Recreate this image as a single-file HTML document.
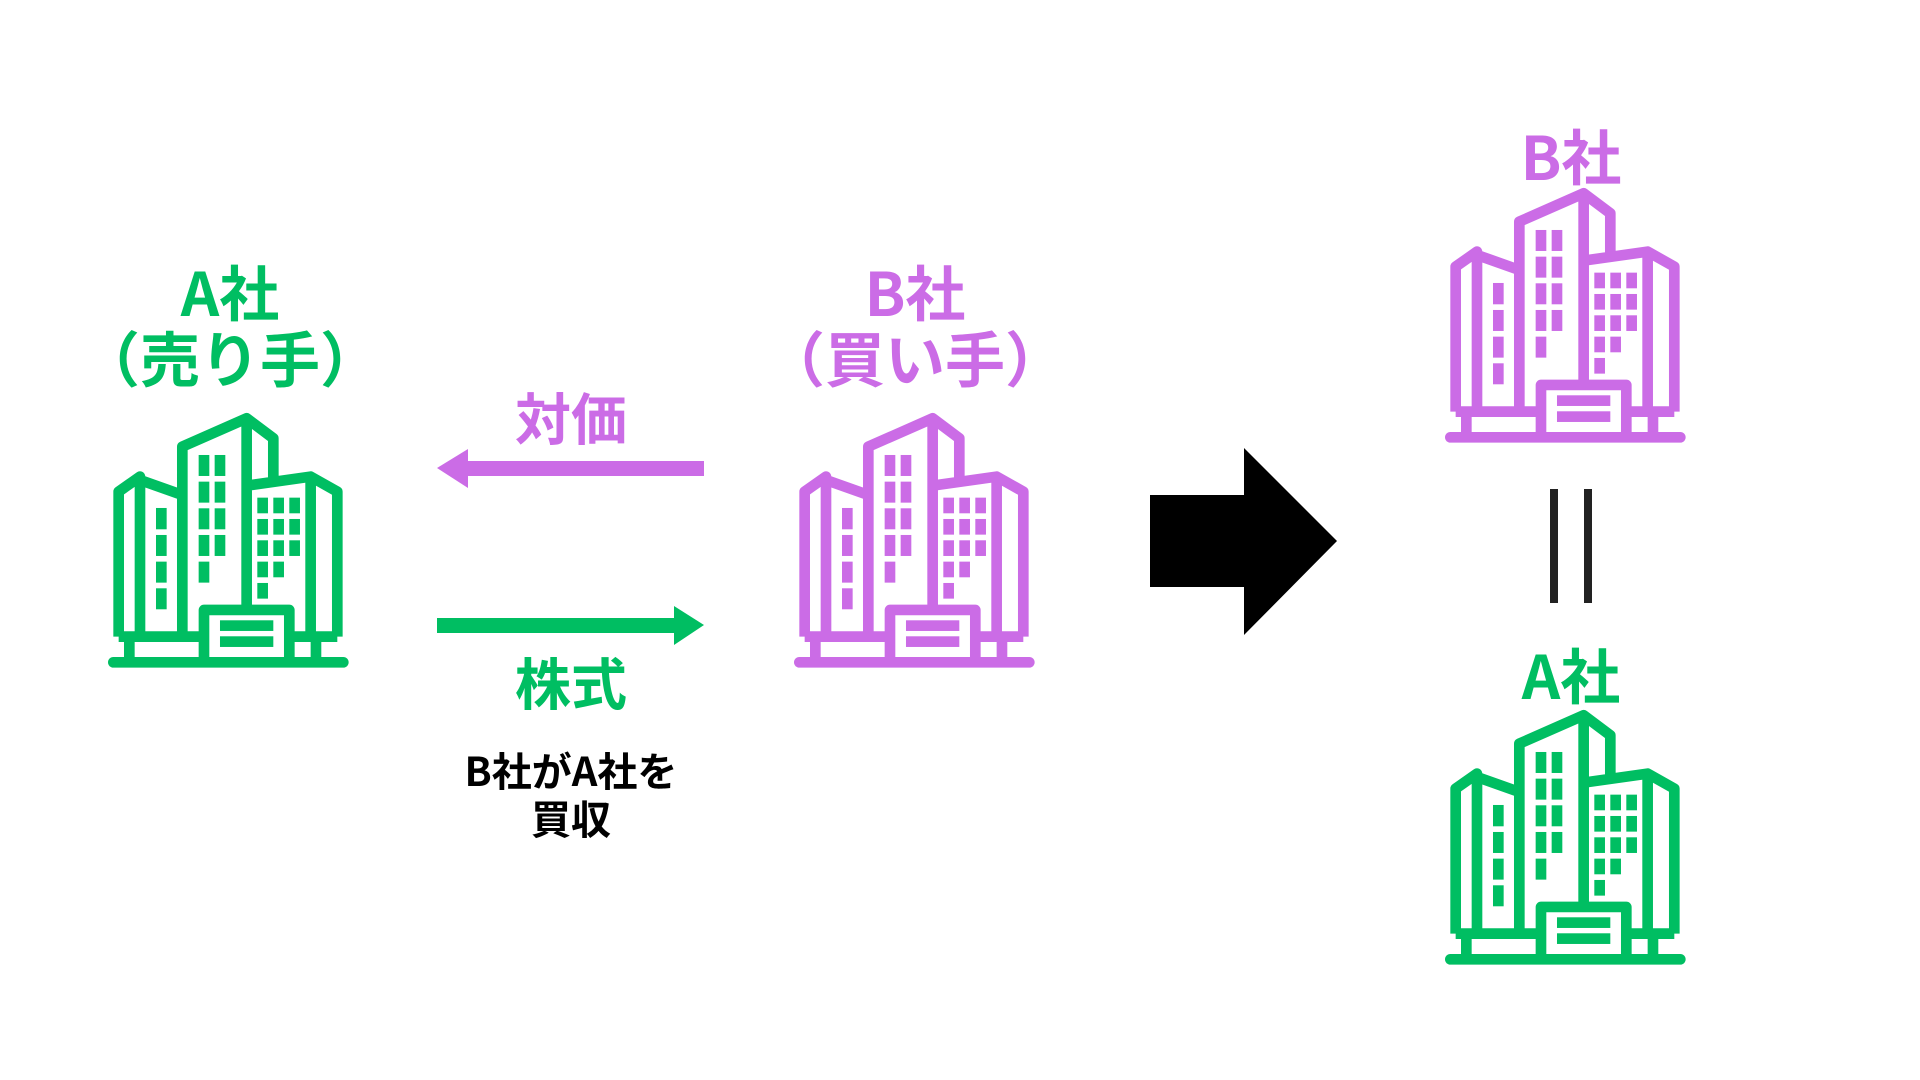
<!DOCTYPE html>
<html><head><meta charset="utf-8"><style>
html,body{margin:0;padding:0;background:#fff;width:1920px;height:1080px;overflow:hidden}
svg{display:block}
text{font-family:"Noto Sans CJK JP","Liberation Sans",sans-serif;font-weight:bold;text-anchor:middle}
</style></head><body>
<svg width="1920" height="1080" viewBox="0 0 1920 1080" xmlns="http://www.w3.org/2000/svg">
<defs>
<g id="bld">
  <path fill="none" stroke="currentColor" stroke-width="32" stroke-linejoin="round" d="M86,1160 V725 L150,680 V1160 M150,690 L277,735 M277,1160 V590 L470,505 L550,565 V690 M470,1080 V505 M470,707 L662,680 L742,725 V1160 M662,690 V1160 M86,1160 H342 M598,1160 H742 M342,1222 V1080 H598 V1222 M118,1160 V1222 M678,1160 V1222"/>
  <path fill="none" stroke="currentColor" stroke-width="32" d="M70,1237 H760" stroke-linecap="round"/>
  <g fill="currentColor">
    <rect x="390" y="1111" width="160" height="32"/><rect x="390" y="1159" width="160" height="32"/>
    <rect x="198" y="774" width="32" height="64"/><rect x="198" y="855" width="32" height="63"/><rect x="198" y="935" width="32" height="63"/><rect x="198" y="1015" width="32" height="63"/>
    <rect x="326" y="615" width="32" height="63"/><rect x="374" y="615" width="32" height="63"/>
    <rect x="326" y="695" width="32" height="63"/><rect x="374" y="695" width="32" height="63"/>
    <rect x="326" y="775" width="32" height="63"/><rect x="374" y="775" width="32" height="63"/>
    <rect x="326" y="855" width="32" height="63"/><rect x="374" y="855" width="32" height="63"/>
    <rect x="326" y="935" width="32" height="63"/>
    <rect x="502" y="743" width="32" height="47"/><rect x="550" y="743" width="32" height="47"/><rect x="598" y="743" width="32" height="47"/>
    <rect x="502" y="807" width="32" height="47"/><rect x="550" y="807" width="32" height="47"/><rect x="598" y="807" width="32" height="47"/>
    <rect x="502" y="871" width="32" height="47"/><rect x="550" y="871" width="32" height="47"/><rect x="598" y="871" width="32" height="47"/>
    <rect x="502" y="935" width="32" height="47"/><rect x="550" y="935" width="32" height="47"/>
    <rect x="502" y="999" width="32" height="47"/>
  </g>
</g>
</defs>
<g transform="translate(90,250) scale(0.3333)" style="color:#00BE62"><use href="#bld"/></g>
<g transform="translate(776,250) scale(0.3333)" style="color:#CB6CE6"><use href="#bld"/></g>
<g transform="translate(1427,25) scale(0.3333)" style="color:#CB6CE6"><use href="#bld"/></g>
<g transform="translate(1427,547) scale(0.3333)" style="color:#00BE62"><use href="#bld"/></g>

<text x="230" y="316" font-size="60" fill="#00BE62">A社</text>
<text x="230" y="382" font-size="60" fill="#00BE62">（売り手）</text>
<text x="915" y="316" font-size="60" fill="#CB6CE6">B社</text>
<text x="915" y="382" font-size="60" fill="#CB6CE6">（買い手）</text>
<text x="1571" y="180" font-size="60" fill="#CB6CE6">B社</text>
<text x="1571" y="699" font-size="60" fill="#00BE62">A社</text>

<rect x="458" y="461" width="252" height="15" fill="#CB6CE6" transform="translate(-6,0)"/>
<polygon points="437,468 468,449 468,488" fill="#CB6CE6"/>
<rect x="437" y="618" width="240" height="15" fill="#00BE62"/>
<polygon points="704,625 674,606 674,645" fill="#00BE62"/>
<text x="571" y="440" font-size="56" fill="#CB6CE6">対価</text>
<text x="571" y="705" font-size="56" fill="#00BE62">株式</text>
<text x="571" y="786" font-size="40" fill="#000">B社がA社を</text>
<text x="571" y="834" font-size="40" fill="#000">買収</text>

<polygon points="1150,495 1244,495 1244,448 1337,541 1244,635 1244,587 1150,587" fill="#000"/>
<rect x="1550" y="489" width="8" height="114" fill="#222"/>
<rect x="1584" y="489" width="8" height="114" fill="#222"/>
</svg>
</body></html>
